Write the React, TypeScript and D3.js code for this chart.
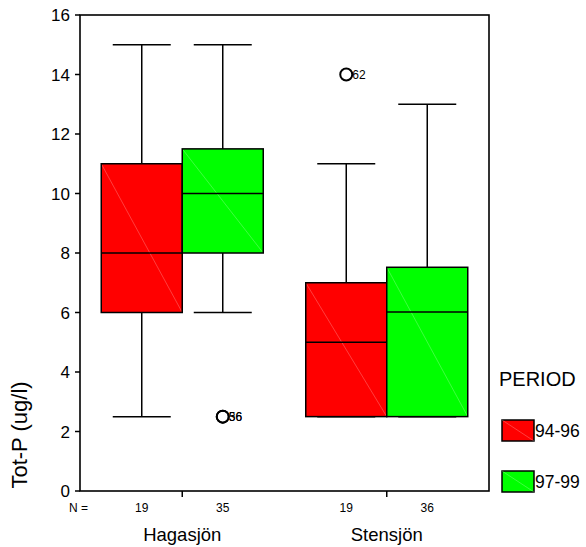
import React from "react";
import * as d3 from "d3";

const groups = ["Hagasjön", "Stensjön"];
const periods = ["94-96", "97-99"];
const periodColors = ["#ff0000", "#00ff00"];
const counts = [[19, 35], [19, 36]];
// [whiskerLow, q1, median, q3, whiskerHigh]
const boxStats = [
  [[2.5, 6, 8, 11, 15], [6, 8, 10, 11.5, 15]],
  [[2.5, 2.5, 5, 7, 11], [2.5, 2.5, 6.02, 7.52, 13]],
];
const outliers = [
  { g: 0, p: 1, v: 2.5, label: "56" },
  { g: 0, p: 1, v: 2.5, label: "36" },
  { g: 1, p: 0, v: 14, label: "62" },
];
const yTicks = [0, 2, 4, 6, 8, 10, 12, 14, 16];

const W = 586, H = 547;
const L = 80, R = 489, T = 15, B = 491;

export default function App() {
  const y = d3.scaleLinear().domain([0, 16]).range([B, T]);
  const xg = d3.scaleBand().domain(groups).range([L, R]).padding(0);
  const xp = d3.scaleBand().domain(periods).range([-81, 81]).padding(0);
  const font = "Arial, 'Liberation Sans', sans-serif";
  const capHalf = 20;

  return (
    <svg width={W} height={H} style={{ position: "absolute", left: 0, top: 0 }} fontFamily={font}>
      <rect x={0} y={0} width={W} height={H} fill="#fff" />
      {groups.map((g, gi) =>
        periods.map((p, pi) => {
          const s = boxStats[gi][pi];
          const gc = xg(g)! + xg.bandwidth() / 2;
          const x0 = gc + xp(p)!;
          const x1 = x0 + xp.bandwidth();
          const cx = (x0 + x1) / 2;
          return (
            <g key={g + p}>
              <line x1={cx} x2={cx} y1={y(s[4])} y2={y(s[3])} stroke="#000" strokeWidth={1.5} />
              <line x1={cx} x2={cx} y1={y(s[1])} y2={y(s[0])} stroke="#000" strokeWidth={1.5} />
              <line x1={cx - capHalf * 1.45} x2={cx + capHalf * 1.45} y1={y(s[4])} y2={y(s[4])} stroke="#000" strokeWidth={1.5} />
              <line x1={cx - capHalf * 1.45} x2={cx + capHalf * 1.45} y1={y(s[0])} y2={y(s[0])} stroke="#000" strokeWidth={1.5} />
              <rect x={x0} y={y(s[3])} width={x1 - x0} height={y(s[1]) - y(s[3])} fill={periodColors[pi]} />
              <line x1={x0} y1={y(s[3])} x2={x1} y2={y(s[1])} stroke="rgba(255,255,255,0.35)" strokeWidth={0.7} />
              <rect x={x0} y={y(s[3])} width={x1 - x0} height={y(s[1]) - y(s[3])} fill="none" stroke="#000" strokeWidth={1.5} />
              <line x1={x0} x2={x1} y1={y(s[2])} y2={y(s[2])} stroke="#000" strokeWidth={1.5} />
            </g>
          );
        })
      )}
      {outliers.map((o, i) => {
        const gc = xg(groups[o.g])! + xg.bandwidth() / 2;
        const cx = gc + xp(periods[o.p])! + xp.bandwidth() / 2;
        return (
          <g key={i}>
            <circle cx={cx} cy={y(o.v)} r={6} fill="none" stroke="#000" strokeWidth={2} />
            <text x={cx + 6} y={y(o.v) + 4} fontSize={12} fill="#000">{o.label}</text>
          </g>
        );
      })}
      {/* frame */}
      <rect x={L} y={T} width={R - L} height={B - T} fill="none" stroke="#000" strokeWidth={1.6} />
      {yTicks.map((t) => (
        <g key={t}>
          <line x1={L - 5} x2={L} y1={y(t)} y2={y(t)} stroke="#000" strokeWidth={1.5} />
          <text x={L - 10} y={y(t) + 6} fontSize={17} textAnchor="end" fill="#000">{t}</text>
        </g>
      ))}
      {groups.map((g) => (
        <line key={g} x1={xg(g)! + xg.bandwidth() / 2} x2={xg(g)! + xg.bandwidth() / 2} y1={B} y2={B + 6} stroke="#000" strokeWidth={1.5} />
      ))}
      <text x={69} y={512} fontSize={12} fill="#000">N =</text>
      {groups.map((g, gi) =>
        periods.map((p, pi) => {
          const gc = xg(g)! + xg.bandwidth() / 2;
          const cx = gc + xp(p)! + xp.bandwidth() / 2;
          return (
            <text key={g + p} x={cx} y={512} fontSize={12} textAnchor="middle" fill="#000">{counts[gi][pi]}</text>
          );
        })
      )}
      {groups.map((g) => (
        <text key={g} x={xg(g)! + xg.bandwidth() / 2} y={541} fontSize={18.5} textAnchor="middle" fill="#000">{g}</text>
      ))}
      <text transform="translate(27,435) rotate(-90)" fontSize={22} textAnchor="middle" fill="#000">Tot-P (ug/l)</text>
      <text x={499} y={386} fontSize={20} fill="#000">PERIOD</text>
      {periods.map((p, pi) => {
        const ly = pi === 0 ? 420 : 471;
        return (
          <g key={p}>
            <rect x={502} y={ly} width={32} height={21} fill={periodColors[pi]} stroke="#000" strokeWidth={1.5} />
            <line x1={502} y1={ly} x2={534} y2={ly + 21} stroke="rgba(255,255,255,0.35)" strokeWidth={0.7} />
            <text x={535} y={ly + 17} fontSize={17.5} fill="#000">{p}</text>
          </g>
        );
      })}
    </svg>
  );
}
